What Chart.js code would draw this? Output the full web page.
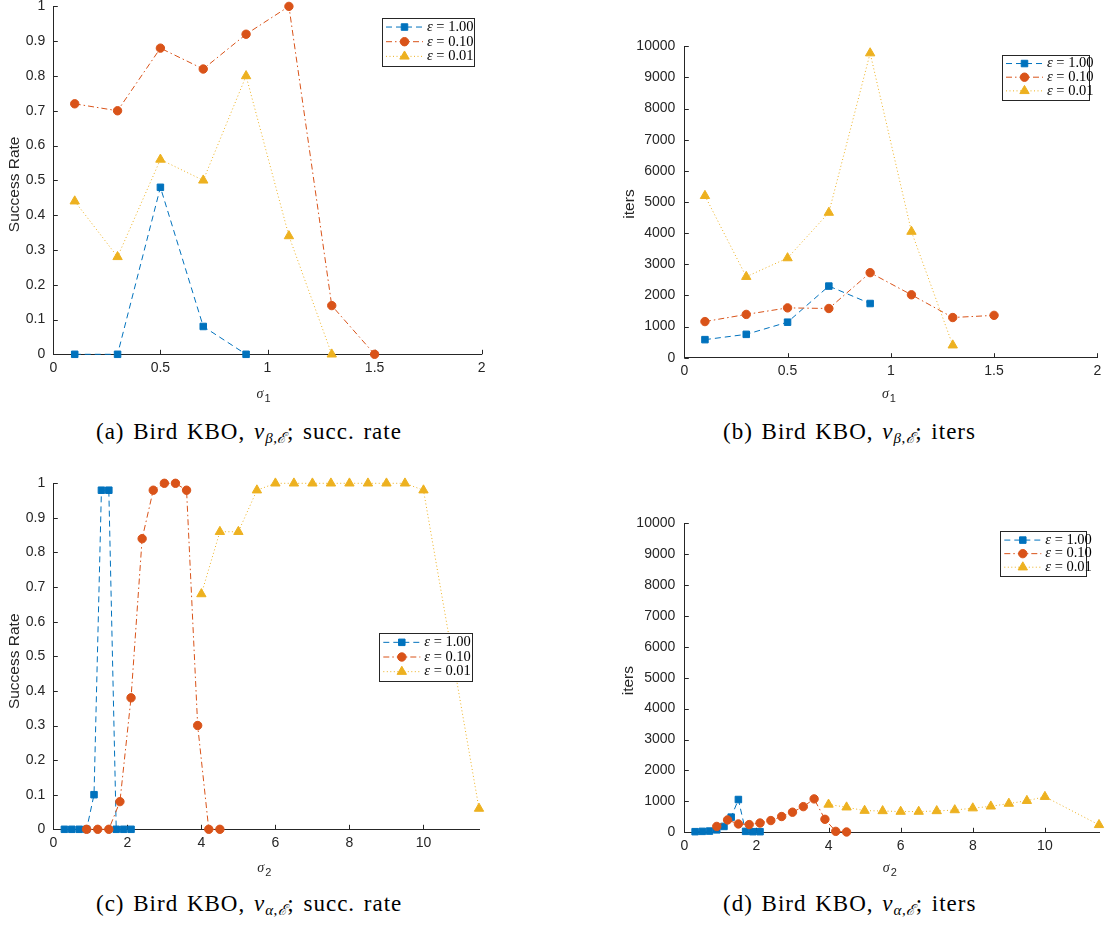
<!DOCTYPE html>
<html lang="en">
<head>
<meta charset="UTF-8">
<title>Bird KBO</title>
<script src="https://cdn.jsdelivr.net/npm/chart.js"></script>
<style>
  body{margin:0;background:#fff;width:1107px;height:928px;position:relative;overflow:hidden}
  canvas{position:absolute}
  .caption{position:absolute;font-family:"Liberation Serif",serif;font-size:23px;letter-spacing:1px;word-spacing:2px;color:#000;white-space:nowrap;line-height:1}
  .caption sub{font-size:15px;vertical-align:-4px;letter-spacing:0.5px}
</style>
</head>
<body>
<canvas id="chartA" width="500" height="420" style="left:0;top:-10px"></canvas>
<canvas id="chartB" width="487" height="390" style="left:620px;top:20px"></canvas>
<canvas id="chartC" width="500" height="420" style="left:0;top:460px"></canvas>
<canvas id="chartD" width="487" height="390" style="left:620px;top:490px"></canvas>

<div class="caption" style="left:96px;top:420px">(a) Bird KBO, <i>v</i><sub><i>β</i>,<i>ℰ</i></sub>; succ. rate</div>
<div class="caption" style="left:723px;top:420px">(b) Bird KBO, <i>v</i><sub><i>β</i>,<i>ℰ</i></sub>; iters</div>
<div class="caption" style="left:96px;top:892px">(c) Bird KBO, <i>v</i><sub><i>α</i>,<i>ℰ</i></sub>; succ. rate</div>
<div class="caption" style="left:723px;top:892px">(d) Bird KBO, <i>v</i><sub><i>α</i>,<i>ℰ</i></sub>; iters</div>

<script>
// ---- data ----
// top row: sigma_1 sweep
const sig1Blue   = [0.1, 0.3, 0.5, 0.7, 0.9];
const sig1Orange = [0.1, 0.3, 0.5, 0.7, 0.9, 1.1, 1.3, 1.5];
const sig1Yellow = [0.1, 0.3, 0.5, 0.7, 0.9, 1.1, 1.3];

const rateA_blue   = [0, 0, 0.48, 0.08, 0];
const rateA_orange = [0.72, 0.70, 0.88, 0.82, 0.92, 1.0, 0.14, 0];
const rateA_yellow = [0.44, 0.28, 0.56, 0.50, 0.80, 0.34, 0];

const itersB_blue   = [580, 750, 1140, 2300, 1740];
const itersB_orange = [1160, 1390, 1600, 1580, 2730, 2020, 1290, 1360];
const itersB_yellow = [5200, 2600, 3200, 4660, 9780, 4050, 400];

// bottom row: sigma_2 sweep
const sig2Blue   = [0.3, 0.5, 0.7, 0.9, 1.1, 1.3, 1.5, 1.7, 1.9, 2.1];
const sig2Orange = [0.9, 1.2, 1.5, 1.8, 2.1, 2.4, 2.7, 3.0, 3.3, 3.6, 3.9, 4.2, 4.5];
const sig2Yellow = [4, 4.5, 5, 5.5, 6, 6.5, 7, 7.5, 8, 8.5, 9, 9.5, 10, 11.5];

const rateC_blue   = [0, 0, 0, 0, 0.1, 0.98, 0.98, 0, 0, 0];
const rateC_orange = [0, 0, 0, 0.08, 0.38, 0.84, 0.98, 1, 1, 0.98, 0.3, 0, 0];
const rateC_yellow = [0.68, 0.86, 0.86, 0.98, 1, 1, 1, 1, 1, 1, 1, 1, 0.98, 0.06];

const itersD_blue   = [20, 30, 40, 80, 190, 490, 1060, 30, 20, 20];
const itersD_orange = [190, 400, 270, 250, 300, 380, 510, 650, 830, 1080, 420, 30, 10];
const itersD_yellow = [900, 810, 700, 690, 670, 670, 690, 720, 780, 840, 930, 1020, 1150, 240];

const epsLabels = ['1.00', '0.10', '0.01'];

// tick labels
const xTicks1 = [0, 0.5, 1, 1.5, 2];
const xTicks2 = [0, 2, 4, 6, 8, 10];
const yTicksRate  = [0, 0.1, 0.2, 0.3, 0.4, 0.5, 0.6, 0.7, 0.8, 0.9, 1];
const yTicksIters = [0, 1000, 2000, 3000, 4000, 5000, 6000, 7000, 8000, 9000, 10000];

// ---- styling ----
const axisColor = '#262626';
const sans = '"Liberation Sans", Arial, sans-serif';
const serif = '"Liberation Serif", serif';
const colBlue = '#0072BD', colOrange = '#D95319', colYellow = '#EDB120';

function pts(xs, ys){ return xs.map((x, i) => ({x: x, y: ys[i]})); }

function makeSets(xsB, ysB, xsO, ysO, xsY, ysY){
  return [
    {label: epsLabels[0], data: pts(xsB, ysB), borderColor: colBlue, backgroundColor: colBlue,
     borderDash: [6, 4], pointStyle: 'rect', pointRadius: 4.6, order: 2},
    {label: epsLabels[1], data: pts(xsO, ysO), borderColor: colOrange, backgroundColor: colOrange,
     borderDash: [6, 3, 1.5, 3], pointStyle: 'circle', pointRadius: 4.2, order: 1},
    {label: epsLabels[2], data: pts(xsY, ysY), borderColor: colYellow, backgroundColor: colYellow,
     borderDash: [1, 2.5], pointStyle: 'triangle', pointRadius: 5.4, order: 0}
  ].map(d => Object.assign(d, {borderWidth: 1, pointBorderWidth: 1, pointBorderColor: d.borderColor,
     pointBackgroundColor: d.borderColor, tension: 0, fill: false, clip: false}));
}

function drawMarker(ctx, style, r, x, y){
  ctx.beginPath();
  if (style === 'rect') {
    const s = r * Math.SQRT1_2;
    ctx.rect(x - s, y - s, 2 * s, 2 * s);
  } else if (style === 'circle') {
    ctx.arc(x, y, r, 0, Math.PI * 2);
  } else {
    for (let k = 0; k < 3; k++) {
      const a = k * 2 * Math.PI / 3;
      const px = x + Math.sin(a) * r, py = y - Math.cos(a) * r;
      if (k === 0) ctx.moveTo(px, py); else ctx.lineTo(px, py);
    }
    ctx.closePath();
  }
  ctx.fill();
  ctx.stroke();
}

// inward tick marks, axis titles and the boxed legend
const decor = {
  id: 'decor',
  beforeDatasetsDraw(chart, args, o){
    const {ctx, chartArea: a, scales: {x, y}} = chart;
    ctx.save();
    ctx.strokeStyle = axisColor;
    ctx.lineWidth = 1;
    ctx.beginPath();
    x.ticks.forEach(t => {
      const px = Math.round(x.getPixelForValue(t.value)) + 0.5;
      ctx.moveTo(px, a.bottom); ctx.lineTo(px, a.bottom - 4.5);
    });
    y.ticks.forEach(t => {
      const py = Math.round(y.getPixelForValue(t.value)) + 0.5;
      ctx.moveTo(a.left, py); ctx.lineTo(a.left + 4.5, py);
    });
    ctx.stroke();

    ctx.fillStyle = axisColor;
    // x title: sigma with subscript
    const cx = (a.left + a.right) / 2 + o.xTitleShift, cy = a.bottom + o.xTitleGap;
    ctx.font = 'italic 14px ' + serif;
    ctx.textBaseline = 'alphabetic';
    ctx.textAlign = 'right';
    ctx.fillText('σ', cx, cy);
    ctx.font = '11px ' + sans;
    ctx.textAlign = 'left';
    ctx.fillText(o.xSub, cx + 1, cy + 4);
    // y title
    ctx.save();
    ctx.translate(o.yTitleX, (a.top + a.bottom) / 2 + o.yTitleShift);
    ctx.rotate(-Math.PI / 2);
    ctx.font = '15.5px ' + sans;
    ctx.textAlign = 'center';
    ctx.textBaseline = 'middle';
    ctx.fillText(o.yTitle, 0, 0);
    ctx.restore();
    ctx.restore();
  },
  afterDatasetsDraw(chart, args, o){
    const {ctx, chartArea: a} = chart;
    const L = o.legend;
    const bx = a.right - L.right - L.w, by = a.top + L.top;
    ctx.save();
    ctx.fillStyle = '#fff';
    ctx.fillRect(bx, by, L.w, L.h);
    ctx.strokeStyle = axisColor;
    ctx.lineWidth = 1;
    ctx.strokeRect(Math.round(bx) + 0.5, Math.round(by) + 0.5, Math.round(L.w), Math.round(L.h));
    const rowH = (L.h - 4) / 3;
    chart.data.datasets.forEach((ds, i) => {
      const ry = by + L.h / 2 + (i - 1) * rowH;
      ctx.strokeStyle = ds.borderColor;
      ctx.fillStyle = ds.borderColor;
      ctx.setLineDash(ds.borderDash);
      ctx.beginPath();
      ctx.moveTo(bx + 4, ry); ctx.lineTo(bx + 41, ry);
      ctx.stroke();
      ctx.setLineDash([]);
      drawMarker(ctx, ds.pointStyle, ds.pointRadius, bx + 22.5, ry);
      ctx.fillStyle = '#000';
      ctx.textBaseline = 'middle';
      ctx.textAlign = 'left';
      ctx.font = 'italic 14.5px ' + serif;
      ctx.fillText('ε', bx + 45, ry);
      const w = ctx.measureText('ε').width;
      ctx.font = '14.5px ' + serif;
      ctx.fillText(' = ' + ds.label, bx + 45 + w, ry);
    });
    ctx.restore();
  }
};

function makeChart(id, sets, cfg){
  const tickFont = {family: sans, size: 14};
  return new Chart(document.getElementById(id), {
    type: 'line',
    data: {datasets: sets},
    plugins: [decor],
    options: {
      responsive: false,
      animation: false,
      layout: {padding: {left: 0, top: cfg.padTop, right: cfg.padRight, bottom: 0}},
      plugins: {
        legend: {display: false},
        tooltip: {enabled: false},
        decor: cfg.decor
      },
      scales: {
        x: {
          type: 'linear', min: 0, max: cfg.xMax,
          afterBuildTicks: s => { s.ticks = cfg.xTicks.map(v => ({value: v})); },
          afterFit: s => { s.height = cfg.xHeight; },
          grid: {drawOnChartArea: false, drawTicks: false},
          border: {color: axisColor, width: 1},
          ticks: {color: axisColor, font: tickFont, padding: 5, maxRotation: 0, autoSkip: false,
                  callback: v => String(v)}
        },
        y: {
          type: 'linear', min: 0, max: cfg.yMax,
          afterBuildTicks: s => { s.ticks = cfg.yTicks.map(v => ({value: v})); },
          afterFit: s => { s.width = cfg.yWidth; },
          grid: {drawOnChartArea: false, drawTicks: false},
          border: {color: axisColor, width: 1},
          ticks: {color: axisColor, font: tickFont, padding: cfg.yPad, autoSkip: false,
                  callback: v => String(v)}
        }
      }
    }
  });
}

makeChart('chartA', makeSets(sig1Blue, rateA_blue, sig1Orange, rateA_orange, sig1Yellow, rateA_yellow), {
  xMax: 2, xTicks: xTicks1, yMax: 1, yTicks: yTicksRate,
  yWidth: 53.3, xHeight: 55.7, padTop: 16, padRight: 18.3, yPad: 8,
  decor: {xSub: '1', xTitleShift: -4, xTitleGap: 44, yTitle: 'Success Rate', yTitleX: 14.3, yTitleShift: 4,
          legend: {right: 7.7, top: 11.3, w: 92, h: 48}}
});

makeChart('chartB', makeSets(sig1Blue, itersB_blue, sig1Orange, itersB_orange, sig1Yellow, itersB_yellow), {
  xMax: 2, xTicks: xTicks1, yMax: 10000, yTicks: yTicksIters,
  yWidth: 64.3, xHeight: 52.3, padTop: 26.3, padRight: 9.7, yPad: 9,
  decor: {xSub: '1', xTitleShift: -2, xTitleGap: 40, yTitle: 'iters', yTitleX: 9.3, yTitleShift: 2,
          legend: {right: 8.3, top: 8.4, w: 87, h: 45}}
});

makeChart('chartC', makeSets(sig2Blue, rateC_blue, sig2Orange, rateC_orange, sig2Yellow, rateC_yellow), {
  xMax: 11.5, xTicks: xTicks2, yMax: 1, yTicks: yTicksRate,
  yWidth: 53.3, xHeight: 50.7, padTop: 23.3, padRight: 21, yPad: 8,
  decor: {xSub: '2', xTitleShift: -2, xTitleGap: 43, yTitle: 'Success Rate', yTitleX: 14.3, yTitleShift: 5,
          legend: {right: 6.7, top: 149.7, w: 93, h: 48}}
});

makeChart('chartD', makeSets(sig2Blue, itersD_blue, sig2Orange, itersD_orange, sig2Yellow, itersD_yellow), {
  xMax: 11.5, xTicks: xTicks2, yMax: 10000, yTicks: yTicksIters,
  yWidth: 64.3, xHeight: 47.7, padTop: 33, padRight: 8, yPad: 9,
  decor: {xSub: '2', xTitleShift: -2, xTitleGap: 40, yTitle: 'iters', yTitleX: 9, yTitleShift: 3,
          legend: {right: 12.3, top: 8.3, w: 86.4, h: 44.7}}
});
</script>
</body>
</html>
